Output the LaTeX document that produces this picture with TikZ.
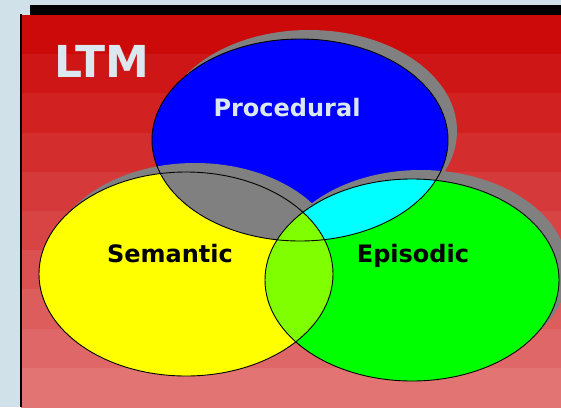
\documentclass[tikz,border=0pt]{standalone}
\usepackage{fontspec}
\setmainfont{DejaVu Sans}
\usetikzlibrary{calc}
\definecolor{panelbg}{RGB}{208,225,233}
\definecolor{ltmtop}{RGB}{204,10,10}
\definecolor{ltmbottom}{RGB}{226,116,116}
\definecolor{labelwhite}{RGB}{220,232,240}
\definecolor{procblue}{RGB}{0,0,255}
\definecolor{semyellow}{RGB}{255,255,0}
\definecolor{epigreen}{RGB}{0,255,0}
\definecolor{procepicyan}{RGB}{0,255,255}
\definecolor{semepilime}{RGB}{128,255,0}
\definecolor{overlapgrey}{RGB}{128,128,128}
\def\procshape{(300, 140) ellipse [x radius=148pt, y radius=101pt]}
\def\semshape{(186, 274) ellipse [x radius=147pt, y radius=102pt]}
\def\epishape{(412, 280) ellipse [x radius=147pt, y radius=101pt]}
\tikzset{
	ovalshadow/.style={fill=overlapgrey, shift={(9, -9)}},
	rim/.style={draw=black, line width=0.9pt},
	setname/.style={font=\bfseries\fontsize{24}{26}\selectfont, anchor=base, inner sep=0pt}
}

\begin{document}
\begin{tikzpicture}[x=1pt, y=-1pt]
			%%%%% START %%%%%
			\useasboundingbox (0, 0) rectangle (561, 407);
			\clip (0, 0) rectangle (561, 407);
			
			\fill[panelbg] (0, 0) rectangle (561, 407);
			\foreach \i in {0,...,9} {
				\pgfmathtruncatemacro\p{\i*100/9}
				\fill[ltmbottom!\p!ltmtop] (21, {15+39.2*\i}) rectangle (561, {15.5+39.2*(\i+1)});
			}
			\fill[black] (30, 5) rectangle (561, 15);
			\fill[black] (20, 14) rectangle (21.5, 407);
			
			\fill[ovalshadow] \procshape;
			\fill[procblue] \procshape;
			
			\fill[ovalshadow] \semshape;
			\fill[ovalshadow] \epishape;
			\fill[semyellow] \semshape;
			\fill[epigreen] \epishape;
			
			\begin{scope}
				\clip \procshape;
				\fill[overlapgrey] \semshape;
				\fill[procepicyan] \epishape;
			\end{scope}
			\begin{scope}
				\clip \semshape;
				\fill[semepilime] \epishape;
			\end{scope}
			
			\draw[rim] \procshape;
			\draw[rim] \semshape;
			\draw[rim] \epishape;
			
			\node[setname, text=labelwhite, font=\bfseries\fontsize{44}{48}\selectfont] (ltm) at (102, 77) {LTM};
			\node[setname, text=labelwhite] (proc) at (287, 116) {Procedural};
			\node[setname] (sem) at (170, 262) {Semantic};
			\node[setname] (epi) at (413, 262) {Episodic};
			%%%%% END %%%%%
\end{tikzpicture}
\end{document}
